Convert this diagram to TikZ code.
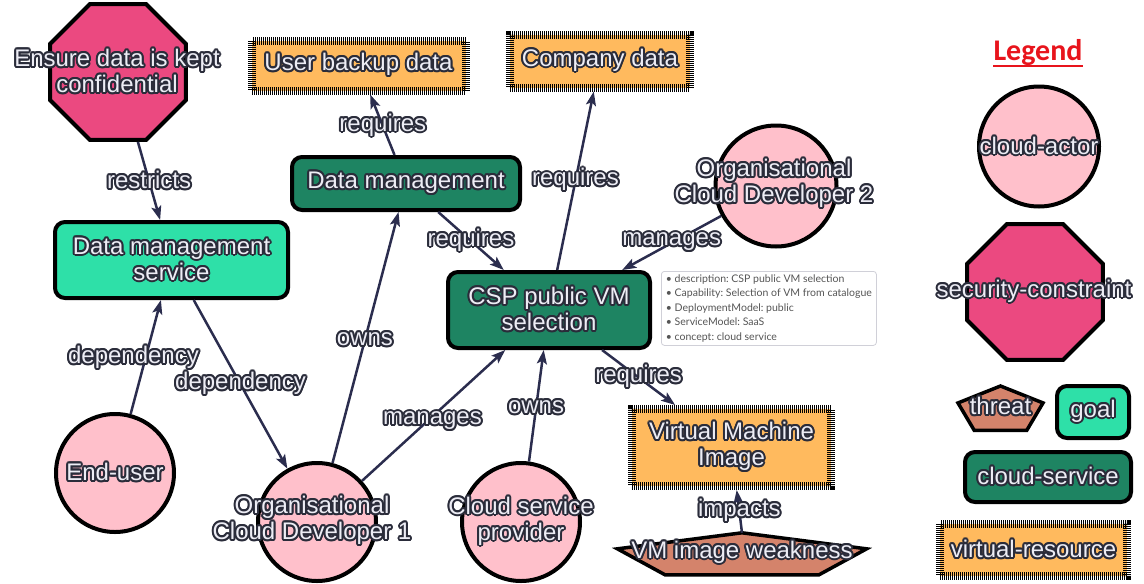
\documentclass[tikz,border=0pt]{standalone}
\usepackage{fontspec}
\setmainfont{Liberation Sans}
\newfontfamily\tipfont{Lato}
\newfontfamily\legfont{Carlito}
\usepackage[copies]{contour}
\contourlength{2pt}
\contournumber{12}
\usetikzlibrary{arrows.meta,shapes.geometric}

\definecolor{halo}{HTML}{2A2C3A}
\definecolor{ink}{HTML}{EDEDF5}
\definecolor{edgec}{HTML}{2B2D4E}
\definecolor{actorfill}{HTML}{FFC0CB}
\definecolor{constrfill}{HTML}{EB4980}
\definecolor{threatfill}{HTML}{D4836B}
\definecolor{goalfill}{HTML}{2EE0A8}
\definecolor{servfill}{HTML}{1E8462}
\definecolor{resfill}{HTML}{FFBA5E}
\definecolor{legred}{HTML}{E8141C}
\definecolor{tipborder}{HTML}{D0D0D8}
\definecolor{tiptext}{HTML}{555555}

% outlined label text
\newcommand\hl[1]{\contour{halo}{#1}}

\begin{document}
\begin{tikzpicture}[x=1pt,y=-1pt,
  lbl/.style={font=\fontsize{24}{26}\selectfont, text=ink, align=center, inner sep=0pt},
  actor/.style={circle, draw=black, line width=4pt, fill=actorfill, minimum size=118pt, inner sep=0pt},
  constraint/.style={regular polygon, regular polygon sides=8, draw=black, line width=4pt,
    fill=constrfill, minimum size=147pt, inner sep=0pt},
  goalbox/.style={lbl, rectangle, rounded corners=10pt, draw=black, line width=4pt, fill=goalfill},
  servicebox/.style={lbl, rectangle, rounded corners=10pt, draw=black, line width=4pt, fill=servfill},
  resourcebox/.style={lbl, rectangle, fill=resfill, draw=black, line width=8pt,
    dash pattern=on 1pt off 1pt},
  threatshape/.style={draw=black, line width=3.5pt, fill=threatfill, line join=miter},
  edge/.style={draw=edgec, line width=2.5pt, -{Stealth[length=14pt,width=10pt,inset=3pt]}},
  tip/.style={draw=tipborder, line width=0.8pt, rounded corners=3pt, fill=white,
    font=\tipfont\fontsize{10.5}{14.6}\selectfont\frenchspacing, text=tiptext, align=left,
    minimum width=215pt, minimum height=74pt, inner xsep=2.5pt, inner ysep=3pt, anchor=north west}
]
\useasboundingbox (0,0) rectangle (1144,584);

% ---- shapes of the model ----
\node[constraint] (ensure) at (118,72) {};
\node[resourcebox, minimum width=214pt, minimum height=50pt] (backup) at (358.5,65.5) {\hl{User backup data}};
\node[resourcebox, minimum width=180pt, minimum height=53pt] (company) at (600,61) {\hl{Company data}};
\node[servicebox, minimum width=228pt, minimum height=53pt] (datamgmt) at (406,183.5) {\hl{Data management}};
\node[goalbox, minimum width=233pt, minimum height=76pt] (dms) at (171.5,260) {\hl{Data management}\\\hl{service}};
\node[servicebox, minimum width=202pt, minimum height=76pt] (csp) at (549,310) {\hl{CSP public VM}\\\hl{selection}};
\node[actor, minimum size=121pt] (ocd2) at (776,186) {};
\node[resourcebox, minimum width=199pt, minimum height=77pt] (vmi) at (731.5,447.5) {\hl{Virtual Machine}\\\hl{Image}};
\node[actor] (enduser) at (115,473) {};
\node[actor] (ocd1) at (317,522) {};
\node[actor] (provider) at (521,522) {};

% threat: flattened pentagon
\begin{scope}[shift={(742,556)}, xscale=131, yscale=23.2]
  \draw[threatshape] (0,-1) -- (-0.951,-0.309) -- (-0.588,0.809) -- (0.588,0.809) -- (0.951,-0.309) -- cycle;
  \coordinate (vmwtop) at (0,-1);
\end{scope}

% attribute tooltip of the CSP service
\node[tip] (cspinfo) at (661,271) {%
  \textbullet\ description: CSP public VM selection\\
  \textbullet\ Capability: Selection of VM from catalogue\\
  \textbullet\ DeploymentModel: public\\
  \textbullet\ ServiceModel: SaaS\\
  \textbullet\ concept: cloud service};

% ---- relations ----
\draw[edge] (ensure) -- node[lbl, pos=0.5] (lrestricts) {\hl{restricts}} (dms);
\draw[edge] (datamgmt) -- node[lbl, pos=0.48] (lreq1) {\hl{requires}} (backup);
\draw[edge] (csp) -- node[lbl, pos=0.5] (lreq2) {\hl{requires}} (company);
\draw[edge] (datamgmt) -- node[lbl, pos=0.5] (lreq3) {\hl{requires}} (csp);
\draw[edge] (ocd2) -- node[lbl, pos=0.5] (lmanages2) {\hl{manages}} (csp);
\draw[edge] (csp) -- node[lbl, pos=0.5] (lreq4) {\hl{requires}} (vmi);
\draw[edge] (vmwtop) -- node[lbl, pos=0.5] (limpacts) {\hl{impacts}} (vmi);
\draw[edge] (ocd1) -- node[lbl, pos=0.49] (lowns1) {\hl{owns}} (datamgmt);
\draw[edge] (enduser) -- node[lbl, pos=0.49, xshift=-12pt] (ldep1) {\hl{dependency}} (dms);
\draw[edge] (dms) -- node[lbl, pos=0.5] (ldep2) {\hl{dependency}} (ocd1);
\draw[edge] (ocd1) -- node[lbl, pos=0.45, xshift=6pt] (lmanages1) {\hl{manages}} (csp);
\draw[edge] (provider) -- node[lbl, pos=0.48] (lowns2) {\hl{owns}} (csp);

% ---- texts over round and octagonal shapes ----
\node[lbl] (ensuretxt) at (117,72) {\hl{Ensure data is kept}\\\hl{confidential}};
\node[lbl] (ocd2txt) at (774,184.5) {\hl{Organisational}\\\hl{Cloud Developer 2}};
\node[lbl] (endusertxt) at (115,473) {\hl{End-user}};
\node[lbl] (ocd1txt) at (312,521.5) {\hl{Organisational}\\\hl{Cloud Developer 1}};
\node[lbl] (providertxt) at (521,522) {\hl{Cloud service}\\\hl{provider}};
\node[lbl] (vmwtxt) at (742,553) {\hl{VM image weakness}};

% ---- legend ----
\node[font=\legfont\bfseries\fontsize{30}{30}\selectfont, text=legred, inner sep=0pt] (legtitle) at (1038,53) {Legend};
\draw[legred, line width=2.5pt] ([yshift=-5pt]legtitle.base west) -- ([yshift=-5pt]legtitle.base east);

\node[actor, minimum size=120pt] (legactor) at (1039,146.5) {};
\node[lbl] (legactortxt) at (1039,146.5) {\hl{cloud-actor}};
\node[constraint] (legconstr) at (1035,292) {};
\node[lbl] (legconstrtxt) at (1034,292) {\hl{security-constraint}};
\begin{scope}[shift={(1000.5,410.5)}, xscale=44.7, yscale=24.5]
  \draw[threatshape] (0,-1) -- (-0.951,-0.309) -- (-0.588,0.809) -- (0.588,0.809) -- (0.951,-0.309) -- cycle;
\end{scope}
\node[lbl] (legthreattxt) at (1000.5,407) {\hl{threat}};
\node[goalbox, minimum width=72pt, minimum height=52pt] (leggoal) at (1093,412) {\hl{goal}};
\node[servicebox, minimum width=166pt, minimum height=50pt] (legservice) at (1048,477) {\hl{cloud-service}};
\node[resourcebox, minimum width=187pt, minimum height=52pt] (legresource) at (1033.5,550) {\hl{virtual-resource}};
\end{tikzpicture}
\end{document}
